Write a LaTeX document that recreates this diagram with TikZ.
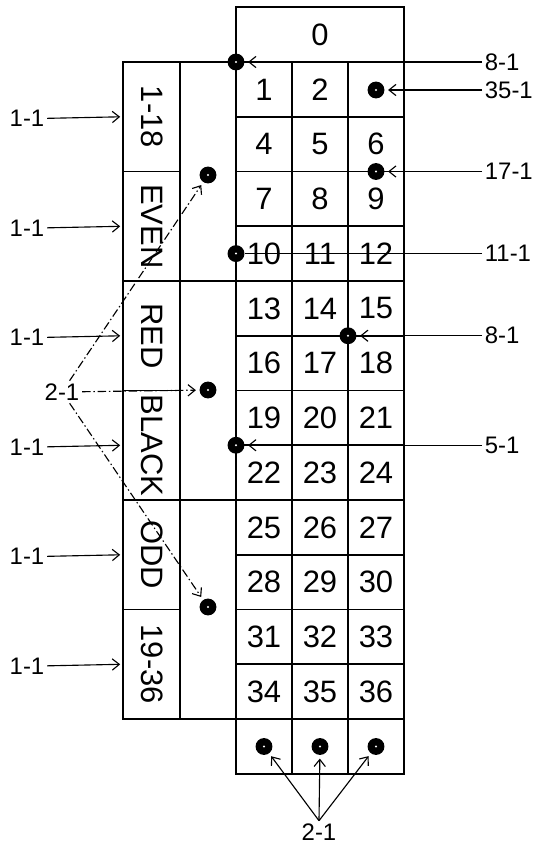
\documentclass[tikz,border=0pt]{standalone}
\usepackage{fontspec}
\setmainfont{Liberation Sans}
\usetikzlibrary{arrows.meta}
\tikzset{
  chip/.style={circle,fill=black,inner sep=0pt,minimum size=12pt,
    path picture={\fill[white] (path picture bounding box.center) circle (0.8pt);}},
  num/.style={font=\fontsize{22}{24}\selectfont,inner sep=0pt},
  odds/.style={font=\fontsize{17}{19}\selectfont,inner sep=1.5pt},
  bet/.style={line width=0.8pt,shorten >=2pt,-{Straight Barb[length=5pt,width=8pt]}},
  betdd/.style={bet,dash pattern=on 6pt off 2pt on 1pt off 2pt},
}

\begin{document}
\begin{tikzpicture}[x=0.25mm,y=-0.25mm,line width=1.2pt]
  \useasboundingbox (0,0) rectangle (542,845);
  % number table
  \draw (236,7) rectangle (404,773.75);
  \foreach \k in {0,...,12} {
    \draw (236,62+54.75*\k) -- (404,62+54.75*\k);
  }
  \draw (292,62) -- (292,773.75);
  \draw (348,62) -- (348,773.75);
  \node[num] (n0) at (320,34.5) {0};
  \foreach \n in {1,...,36} {
    \pgfmathtruncatemacro\row{(\n-1)/3}
    \pgfmathtruncatemacro\col{mod(\n-1,3)}
    \ifnum\n=3 \else
      \node[num] (n\n) at (264+56*\col,62+54.75*\row+27.4) {\n};
    \fi
  }
  % outside bets
  \draw (123,62) rectangle (236,719);
  \draw (180,62) -- (180,719);
  \draw (123,281) -- (236,281);
  \draw (123,500) -- (236,500);
  \foreach \y in {171.5,390.5,609.5} \draw (123,\y) -- (180,\y);
  \foreach \t [count=\i] in {1-18,EVEN,RED,BLACK,ODD,19-36} {
    \node[num,rotate=-90] (em\i) at (152,62+109.5*\i-54.75) {\t};
    \coordinate (eb\i) at (123,62+109.5*\i-54.75);
    \node[odds] (ev\i) at (27,64+109.5*\i-54.75) {1-1};
    \draw[bet] (ev\i) -- (eb\i);
  }
  % chips
  \node[chip] (cFour) at (236,62) {};
  \node[chip] (cThree) at (376,90) {};
  \node[chip] (cSplit) at (376,171.5) {};
  \node[chip] (cStreet) at (236,253.6) {};
  \node[chip] (cCorner) at (348,335.75) {};
  \node[chip] (cLine) at (236,445.25) {};
  \node[chip] (cDozA) at (208,175) {};
  \node[chip] (cDozB) at (208,390) {};
  \node[chip] (cDozC) at (208,607) {};
  \node[chip] (cColA) at (264,746.5) {};
  \node[chip] (cColB) at (320,746.5) {};
  \node[chip] (cColC) at (376,746.5) {};
  % payouts
  \node[odds,anchor=west] (lFour) at (482,62) {8-1};
  \node[odds,anchor=west] (lThree) at (482,90) {35-1};
  \node[odds,anchor=west] (lSplit) at (482,171.5) {17-1};
  \node[odds,anchor=west] (lStreet) at (482,253.6) {11-1};
  \node[odds,anchor=west] (lCorner) at (482,335.75) {8-1};
  \node[odds,anchor=west] (lLine) at (482,445.25) {5-1};
  \draw[bet] (lFour) -- (cFour);
  \draw[bet] (lThree) -- (cThree);
  \draw[bet] (lSplit) -- (cSplit);
  \draw[line width=0.8pt] (lStreet) -- (cStreet);
  \draw[bet] (lCorner) -- (cCorner);
  \draw[bet] (lLine) -- (cLine);
  \node[odds] (lDoz) at (62,392) {2-1};
  \foreach \c in {cDozA,cDozB,cDozC} \draw[betdd] (lDoz) -- (\c);
  \node[odds] (lCol) at (319,832) {2-1};
  \foreach \c in {cColA,cColB,cColC} \draw[bet] (lCol.north) -- (\c);
\end{tikzpicture}
\end{document}
